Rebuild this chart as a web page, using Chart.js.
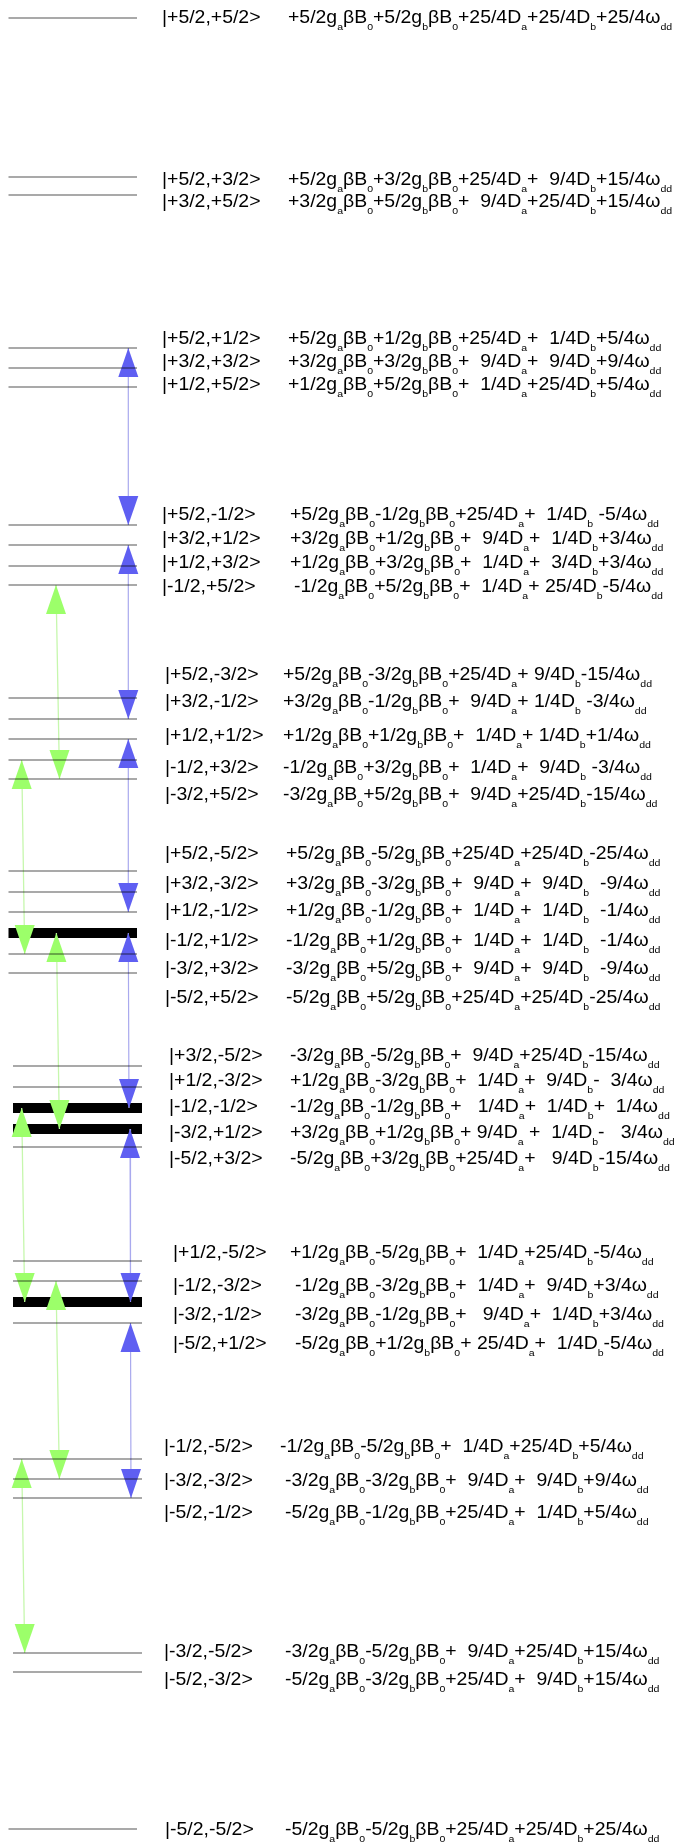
<!DOCTYPE html>
<html><head><meta charset="utf-8">
<script src="https://cdn.jsdelivr.net/npm/chart.js@4/dist/chart.umd.min.js"></script>
<style>html,body{margin:0;padding:0;background:#fff}#wrap{width:680px;height:1845px;position:relative}</style>
</head><body><div id="wrap"><canvas id="c" width="680" height="1845"></canvas></div>
<script>
// ---------------- DATA ----------------
const kets = [
  '|+5/2,+5/2>',
  '|+5/2,+3/2>','|+3/2,+5/2>',
  '|+5/2,+1/2>','|+3/2,+3/2>','|+1/2,+5/2>',
  '|+5/2,-1/2>','|+3/2,+1/2>','|+1/2,+3/2>','|-1/2,+5/2>',
  '|+5/2,-3/2>','|+3/2,-1/2>','|+1/2,+1/2>','|-1/2,+3/2>','|-3/2,+5/2>',
  '|+5/2,-5/2>','|+3/2,-3/2>','|+1/2,-1/2>','|-1/2,+1/2>','|-3/2,+3/2>','|-5/2,+5/2>',
  '|+3/2,-5/2>','|+1/2,-3/2>','|-1/2,-1/2>','|-3/2,+1/2>','|-5/2,+3/2>',
  '|+1/2,-5/2>','|-1/2,-3/2>','|-3/2,-1/2>','|-5/2,+1/2>',
  '|-1/2,-5/2>','|-3/2,-3/2>','|-5/2,-1/2>',
  '|-3/2,-5/2>','|-5/2,-3/2>',
  '|-5/2,-5/2>'
];
// level energies (arbitrary units)
const energies = [
  90.5,
  74.6, 72.8,
  57.5, 55.5, 53.6,
  39.8, 37.8, 35.7, 33.8,
  22.5, 20.4, 18.4, 16.3, 14.4,
  5.2, 3.1, 1.1, -1.0, -3.1, -5.0,
  -14.3, -16.4, -18.5, -20.6, -22.4,
  -33.8, -35.8, -37.9, -40.0,
  -53.6, -55.6, -57.5,
  -73.0, -74.9,
  -90.6
];
const formulas = [
  '+5/2g_aβB_0+5/2g_bβB_0+25/4D_a+25/4D_b+25/4ω_dd',
  '+5/2g_aβB_0+3/2g_bβB_0+25/4D_a+  9/4D_b+15/4ω_dd',
  '+3/2g_aβB_0+5/2g_bβB_0+  9/4D_a+25/4D_b+15/4ω_dd',
  '+5/2g_aβB_0+1/2g_bβB_0+25/4D_a+  1/4D_b+5/4ω_dd',
  '+3/2g_aβB_0+3/2g_bβB_0+  9/4D_a+  9/4D_b+9/4ω_dd',
  '+1/2g_aβB_0+5/2g_bβB_0+  1/4D_a+25/4D_b+5/4ω_dd',
  '+5/2g_aβB_0-1/2g_bβB_0+25/4D_a+  1/4D_b -5/4ω_dd',
  '+3/2g_aβB_0+1/2g_bβB_0+  9/4D_a+  1/4D_b+3/4ω_dd',
  '+1/2g_aβB_0+3/2g_bβB_0+  1/4D_a+  3/4D_b+3/4ω_dd',
  '-1/2g_aβB_0+5/2g_bβB_0+  1/4D_a+ 25/4D_b-5/4ω_dd',
  '+5/2g_aβB_0-3/2g_bβB_0+25/4D_a+ 9/4D_b-15/4ω_dd',
  '+3/2g_aβB_0-1/2g_bβB_0+  9/4D_a+ 1/4D_b -3/4ω_dd',
  '+1/2g_aβB_0+1/2g_bβB_0+  1/4D_a+ 1/4D_b+1/4ω_dd',
  '-1/2g_aβB_0+3/2g_bβB_0+  1/4D_a+  9/4D_b -3/4ω_dd',
  '-3/2g_aβB_0+5/2g_bβB_0+  9/4D_a+25/4D_b-15/4ω_dd',
  '+5/2g_aβB_0-5/2g_bβB_0+25/4D_a+25/4D_b-25/4ω_dd',
  '+3/2g_aβB_0-3/2g_bβB_0+  9/4D_a+  9/4D_b  -9/4ω_dd',
  '+1/2g_aβB_0-1/2g_bβB_0+  1/4D_a+  1/4D_b  -1/4ω_dd',
  '-1/2g_aβB_0+1/2g_bβB_0+  1/4D_a+  1/4D_b  -1/4ω_dd',
  '-3/2g_aβB_0+5/2g_bβB_0+  9/4D_a+  9/4D_b  -9/4ω_dd',
  '-5/2g_aβB_0+5/2g_bβB_0+25/4D_a+25/4D_b-25/4ω_dd',
  '-3/2g_aβB_0-5/2g_bβB_0+  9/4D_a+25/4D_b-15/4ω_dd',
  '+1/2g_aβB_0-3/2g_bβB_0+  1/4D_a+  9/4D_b-  3/4ω_dd',
  '-1/2g_aβB_0-1/2g_bβB_0+   1/4D_a+  1/4D_b+  1/4ω_dd',
  '+3/2g_aβB_0+1/2g_bβB_0+ 9/4D_a +  1/4D_b-   3/4ω_dd',
  '-5/2g_aβB_0+3/2g_bβB_0+25/4D_a+   9/4D_b-15/4ω_dd',
  '+1/2g_aβB_0-5/2g_bβB_0+  1/4D_a+25/4D_b-5/4ω_dd',
  '-1/2g_aβB_0-3/2g_bβB_0+  1/4D_a+  9/4D_b+3/4ω_dd',
  '-3/2g_aβB_0-1/2g_bβB_0+   9/4D_a+  1/4D_b+3/4ω_dd',
  '-5/2g_aβB_0+1/2g_bβB_0+ 25/4D_a+  1/4D_b-5/4ω_dd',
  '-1/2g_aβB_0-5/2g_bβB_0+  1/4D_a+25/4D_b+5/4ω_dd',
  '-3/2g_aβB_0-3/2g_bβB_0+  9/4D_a+  9/4D_b+9/4ω_dd',
  '-5/2g_aβB_0-1/2g_bβB_0+25/4D_a+  1/4D_b+5/4ω_dd',
  '-3/2g_aβB_0-5/2g_bβB_0+  9/4D_a+25/4D_b+15/4ω_dd',
  '-5/2g_aβB_0-3/2g_bβB_0+25/4D_a+  9/4D_b+15/4ω_dd',
  '-5/2g_aβB_0-5/2g_bβB_0+25/4D_a+25/4D_b+25/4ω_dd'
];
const groupSizes = [1, 2, 3, 4, 5, 6, 5, 4, 3, 2, 1];
// transitions (upper level, lower level)
const blueTransitions = [
  ['|+5/2,+1/2>','|+5/2,-1/2>'], ['|+3/2,+1/2>','|+3/2,-1/2>'], ['|+1/2,+1/2>','|+1/2,-1/2>'],
  ['|-1/2,+1/2>','|-1/2,-1/2>'], ['|-3/2,+1/2>','|-3/2,-1/2>'], ['|-5/2,+1/2>','|-5/2,-1/2>']
];
const greenTransitions = [
  ['|-1/2,+5/2>','|-3/2,+5/2>'], ['|-1/2,+3/2>','|-3/2,+3/2>'], ['|-1/2,+1/2>','|-3/2,+1/2>'],
  ['|-1/2,-1/2>','|-3/2,-1/2>'], ['|-1/2,-3/2>','|-3/2,-3/2>'], ['|-1/2,-5/2>','|-3/2,-5/2>']
];

// ---------------- LAYOUT (pixels) ----------------
const W = 680, H = 1845;
const Y_MAX = 92.3, Y_MIN = Y_MAX - H / 10;
const groupLineX = [[8.5,137],[8.5,137],[8.5,137],[8.5,137],[8.5,137],[8.5,137],[13,142],[13,142],[13,142],[13,142],[8.5,137]];
const groupKetX = [162,162,162,162,165,165,169,173,164,164,165];
const labelY = [17, 179,201, 338,361,384, 514,538,562,586, 674,701,735,767,794,
  853,883,910,940,968,997, 1055,1080,1106,1132,1158, 1252,1285,1314,1343, 1446,1480,1512, 1651,1679, 1829];
const formulaX = [288, 288,288, 288,288,288, 290,290,290,294, 283,283,283,283,283,
  286,286,286,286,286,286, 290,290,290,290,290, 290,295,295,295, 280,285,285, 285,285, 285];
const blueX = [[128.3,128.3],[128.3,128.3],[128.3,128.3],[128.3,129],[130,130.5],[130.5,131]];
const greenX = [[56,59.5],[21.7,24.7],[56.4,59.4],[21.7,24.7],[56,59.4],[21.7,24.7]];
const HEAD_W = 20, HEAD_H = 29;
const FS = 17.5, SUBFS = 9.5, SX = 1.11, SUBDY = 6.5, BASE_DY = 6.3, RIGHT_LIMIT = 677;
const FONT = '"Liberation Sans", Arial, sans-serif';

// ---------------- BUILD ----------------
const groupOf = [];
groupSizes.forEach((n, g) => { for (let k = 0; k < n; k++) groupOf.push(g); });
const idx = k => kets.indexOf(k);
const blueIdx = blueTransitions.map(p => p.map(idx));
const greenIdx = greenTransitions.map(p => p.map(idx));
const inBlue = new Set(blueIdx.flat()), inGreen = new Set(greenIdx.flat());
const isThick = i => inBlue.has(i) && inGreen.has(i);

function segs(indices) {
  const out = [];
  indices.forEach(i => {
    const [x0, x1] = groupLineX[groupOf[i]];
    out.push({x: x0, y: energies[i]}, {x: x1, y: energies[i]}, {x: x1, y: null});
  });
  return out;
}
const allIdx = energies.map((_, i) => i);
const thinIdx = allIdx.filter(i => !isThick(i));
const thickIdx = allIdx.filter(i => isThick(i));
function shafts(pairs, xs) {
  const out = [];
  pairs.forEach((p, j) => {
    out.push({x: xs[j][0], y: energies[p[0]]}, {x: xs[j][1], y: energies[p[1]]}, {x: xs[j][1], y: null});
  });
  return out;
}

const heads = {
  id: 'heads',
  beforeDatasetDraw(chart, args) {
    if (args.index !== 3) return;
    const ctx = chart.ctx, sx = chart.scales.x, sy = chart.scales.y;
    const drawSet = (pairs, xs, color) => {
      ctx.fillStyle = color;
      pairs.forEach((p, j) => {
        const xt = sx.getPixelForValue(xs[j][0]), yt = sy.getPixelForValue(energies[p[0]]);
        const xb = sx.getPixelForValue(xs[j][1]), yb = sy.getPixelForValue(energies[p[1]]);
        ctx.beginPath(); ctx.moveTo(xt, yt); ctx.lineTo(xt - HEAD_W/2, yt + HEAD_H); ctx.lineTo(xt + HEAD_W/2, yt + HEAD_H); ctx.closePath(); ctx.fill();
        ctx.beginPath(); ctx.moveTo(xb, yb); ctx.lineTo(xb - HEAD_W/2, yb - HEAD_H); ctx.lineTo(xb + HEAD_W/2, yb - HEAD_H); ctx.closePath(); ctx.fill();
      });
    };
    ctx.save();
    drawSet(blueIdx, blueX, '#5f5ff2');
    drawSet(greenIdx, greenX, '#9cff6a');
    ctx.restore();
  }
};

function parseRich(str) {
  const parts = [];
  let i = 0;
  while (i < str.length) {
    if (str[i] === '_') {
      const sub = str.startsWith('dd', i + 1) ? 'dd' : str[i + 1];
      parts.push({t: sub, sub: true});
      i += 1 + sub.length;
    } else {
      let j = str.indexOf('_', i); if (j < 0) j = str.length;
      parts.push({t: str.slice(i, j), sub: false});
      i = j;
    }
  }
  return parts;
}
function drawRich(ctx, str, x, y) {
  const parts = parseRich(str);
  let w = 0;
  parts.forEach(p => { ctx.font = (p.sub ? SUBFS : FS) + 'px ' + FONT; w += ctx.measureText(p.t).width; });
  const sxv = Math.min(SX, (RIGHT_LIMIT - x) / w);
  ctx.save();
  ctx.translate(x, y);
  ctx.scale(sxv, 1);
  ctx.textBaseline = 'alphabetic';
  ctx.fillStyle = '#000';
  let cx = 0;
  parts.forEach(p => {
    ctx.font = (p.sub ? SUBFS : FS) + 'px ' + FONT;
    ctx.fillText(p.t, cx, p.sub ? SUBDY : 0);
    cx += ctx.measureText(p.t).width;
  });
  ctx.restore();
}

const labels = {
  id: 'labels',
  afterDraw(chart) {
    const ctx = chart.ctx;
    kets.forEach((k, i) => {
      const base = labelY[i] + BASE_DY;
      drawRich(ctx, k, groupKetX[groupOf[i]], base);
      drawRich(ctx, formulas[i], formulaX[i], base);
    });
  }
};

new Chart(document.getElementById('c'), {
  type: 'line',
  data: {
    datasets: [
      { label: 'degenerate', data: segs(thickIdx), borderColor: '#000', borderWidth: 10, borderCapStyle: 'butt', pointRadius: 0, spanGaps: false, order: 4 },
      { label: 'blue', data: shafts(blueIdx, blueX), borderColor: '#a9a9ee', borderWidth: 1.2, pointRadius: 0, spanGaps: false, order: 3 },
      { label: 'green', data: shafts(greenIdx, greenX), borderColor: '#c6f7ad', borderWidth: 1.3, pointRadius: 0, spanGaps: false, order: 2 },
      { label: 'levels', data: segs(thinIdx), borderColor: 'rgba(0,0,0,0.45)', borderWidth: 1.4, borderCapStyle: 'butt', pointRadius: 0, spanGaps: false, order: 1 }
    ]
  },
  options: {
    responsive: false, animation: false, devicePixelRatio: 1,
    layout: { padding: 0 },
    plugins: { legend: { display: false }, tooltip: { enabled: false }, title: { display: false } },
    scales: {
      x: { type: 'linear', min: 0, max: W, display: false },
      y: { type: 'linear', min: Y_MIN, max: Y_MAX, display: false }
    },
    elements: { line: { tension: 0 } }
  },
  plugins: [heads, labels]
});
</script>
</body></html>
